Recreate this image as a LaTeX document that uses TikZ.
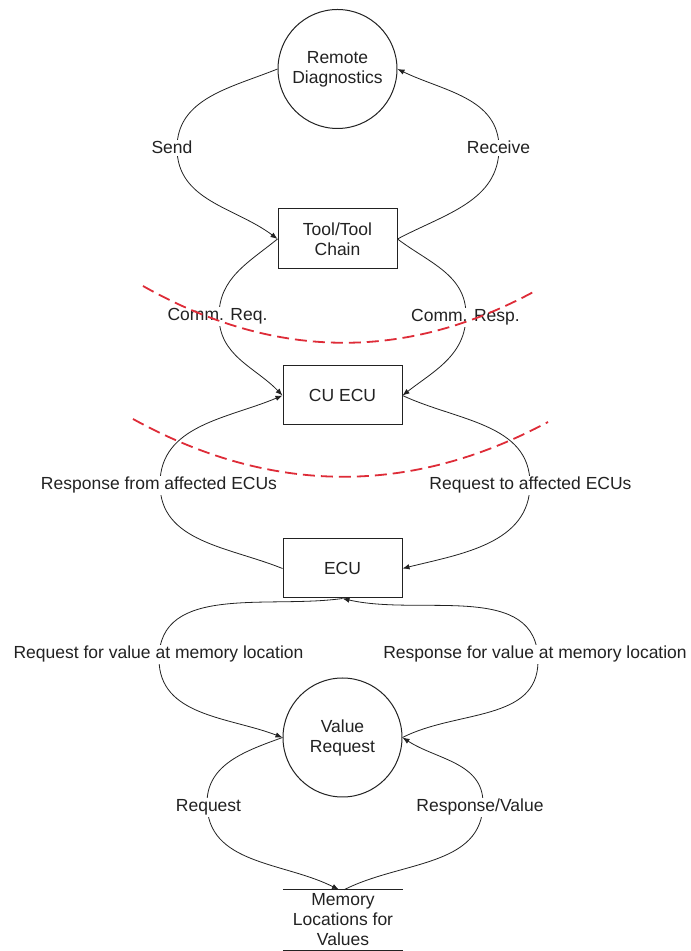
\documentclass[tikz,border=0pt]{standalone}
\usepackage{fontspec}
\setmainfont{Liberation Sans}
\usetikzlibrary{arrows.meta}
\definecolor{ink}{HTML}{222222}
\definecolor{cut}{RGB}{222,44,56}
\begin{document}
\begin{tikzpicture}[x=1pt,y=1pt,
  every node/.style={font=\fontsize{17.5}{20}\selectfont, text=ink},
  process/.style={draw=ink, line width=1pt, circle, minimum size=119pt, inner sep=0pt, align=center},
  entity/.style={draw=ink, line width=1pt, rectangle, minimum width=119pt, minimum height=60pt, inner sep=0pt, align=center},
  store/.style={minimum width=120pt, minimum height=60pt, inner sep=0pt, align=center},
  flow/.style={draw=ink, line width=0.8pt, -{Latex[length=7pt,width=5.5pt]}},
  flowlabel/.style={fill=white, inner sep=1.5pt, anchor=base},
  boundary/.style={draw=cut, line width=1.8pt, dash pattern=on 12pt off 6pt},
]
\useasboundingbox (0,0) rectangle (691,951);
\fill[white] (0,0) rectangle (691,951);

% processes, entities and the data store
\node[process] (rd) at (337.5,882) {Remote\\Diagnostics};
\node[entity] (tool) at (337.5,712) {Tool/Tool\\Chain};
\node[entity, minimum height=59pt] (cu) at (342.5,555.5) {CU ECU};
\node[entity, minimum height=59pt] (ecu) at (342.5,382.5) {ECU};
\node[process] (vr) at (342.5,213.5) {Value\\Request};
\node[store] (mem) at (343,31) {Memory\\Locations for\\Values};
\draw[ink, line width=1pt] (mem.north west) -- (mem.north east)
                           (mem.south west) -- (mem.south east);

% turning points of the flows (hidden under their labels)
\coordinate (mSend) at (177,803);
\coordinate (mRecv) at (499,803);
\coordinate (mReq)  at (219,635);
\coordinate (mResp) at (466,636);
\coordinate (mFrom) at (160,467);
\coordinate (mTo)   at (530,467);
\coordinate (mRfv)  at (159,292);
\coordinate (mSfv)  at (538,290);
\coordinate (mReqB) at (207,148);
\coordinate (mVal)  at (483,148);

% data flows
\draw[flow] (rd.west) to[out=202,in=90] (mSend) to[out=270,in=143] (tool.west);
\draw[flow] (tool.east) to[out=28,in=270] (mRecv) to[out=90,in=334] (rd.east);
\draw[flow] (tool.west) to[out=219,in=90] (mReq) to[out=270,in=134] (cu.west);
\draw[flow] (tool.east) to[out=323,in=90] (mResp) to[out=270,in=38] (cu.east);
\draw[flow] (ecu.west) to[out=158,in=270] (mFrom) to[out=90,in=203] (cu.west);
\draw[flow] (cu.east) to[out=335,in=90] (mTo) to[out=270,in=14] (ecu.east);
\draw[flow] (ecu.south) to[out=188,in=90] (mRfv) to[out=270,in=159] (vr.west);
\draw[flow] (vr.east) to[out=27,in=270] (mSfv) to[out=90,in=347] (ecu.south);
\draw[flow] (vr.west) to[out=200,in=90] (mReqB) to[out=270,in=153] ([xshift=-4pt]mem.north);
\draw[flow] ([xshift=1pt]mem.north) to[out=27,in=270] (mVal) to[out=90,in=327] (vr.east);

% flow labels
\node[flowlabel] (lSend) at (172,797) {Send};
\node[flowlabel] (lRecv) at (498.5,797) {Receive};
\node[flowlabel] (lReq)  at (217.5,630) {Comm. Req.};
\node[flowlabel] (lResp) at (465.5,629) {Comm. Resp.};
\node[flowlabel] (lFrom) at (159,461) {Response from affected ECUs};
\node[flowlabel] (lTo)   at (530.5,461) {Request to affected ECUs};
\node[flowlabel] (lRfv)  at (158.5,292) {Request for value at memory location};
\node[flowlabel] (lSfv)  at (535,292) {Response for value at memory location};
\node[flowlabel] (lReqB) at (208.5,139) {Request};
\node[flowlabel] (lVal)  at (480,139) {Response/Value};

% trust boundaries
\draw[boundary] (143,665) .. controls (274,591) and (406,589) .. (537,661);
\draw[boundary] (133,532) .. controls (271,456) and (410,455) .. (548,529);
\end{tikzpicture}
\end{document}
